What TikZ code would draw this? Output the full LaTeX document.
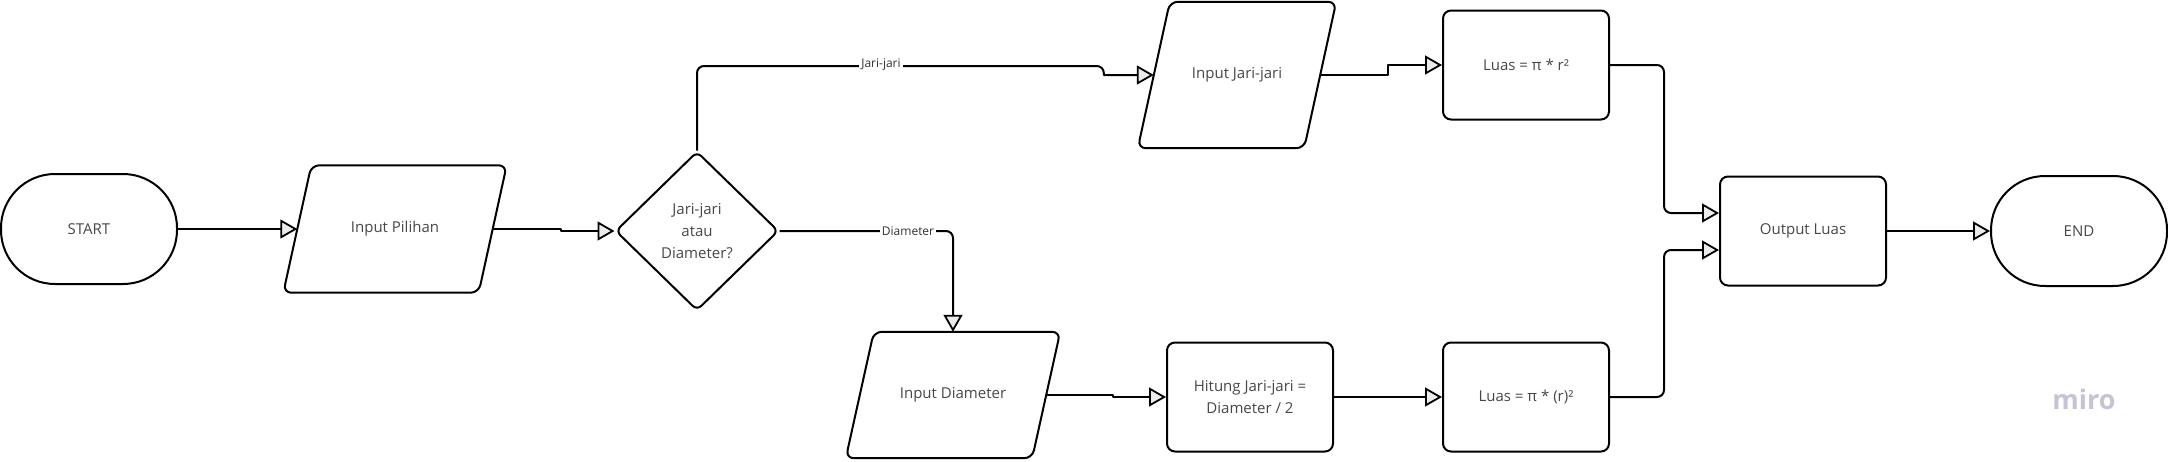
\documentclass[tikz,border=0pt]{standalone}
\usepackage{fontspec}
\setmainfont{Open Sans}
\usetikzlibrary{arrows.meta,shapes.geometric,calc}
\definecolor{txt}{HTML}{474747}
\definecolor{miro}{HTML}{C5C4D6}
\tikzset{
  base/.style={draw=black, line width=2pt, text=txt, font=\fontsize{15}{22}\selectfont, align=center, inner sep=0pt},
  term/.style={base, rounded corners=54pt, minimum width=176pt, minimum height=110pt},
  proc/.style={base, rounded corners=8pt, minimum width=166pt, minimum height=109pt},
  io/.style={text=txt, font=\fontsize{15}{22}\selectfont, align=center, inner sep=0pt},
  ioline/.style={draw=black, line width=2pt, rounded corners=8pt},
  dec/.style={base, diamond, rounded corners=6pt, minimum width=163pt, minimum height=159pt},
  conn/.style={line width=2pt, line join=round, rounded corners=7pt, -{Triangle[length=17pt,width=19pt,fill=black!8,line width=1.8pt]}},
  jog/.style={conn, sharp corners},
  elabel/.style={fill=white, text=black!80, font=\fontsize{12}{14}\selectfont, inner sep=2pt}
}
\begin{document}
\begin{tikzpicture}[x=1pt,y=-1pt]
\useasboundingbox (0,0) rectangle (2168,461);
\node[term] (start) at (89,229) {START};
\node[io, minimum width=195pt, minimum height=127pt] (pil) at (395,229) {Input Pilihan};
\node[dec] (dec) at (697,231) {Jari-jari\\atau\\Diameter?};
\node[io, minimum width=166pt, minimum height=146pt] (ij) at (1237,75) {Input Jari-jari};
\node[proc] (l1) at (1526,65) {Luas = π * r²};
\node[proc] (out) at (1803,231) {Output Luas};
\node[term] (end) at (2079,231) {END};
\node[io, minimum width=186pt, minimum height=126pt] (id) at (953,395) {Input Diameter};
\node[proc] (hit) at (1250,397) {Hitung Jari-jari =\\Diameter / 2};
\node[proc] (l2) at (1526,397) {Luas = π * (r)²};
\node[text=miro, font=\fontsize{27}{30}\selectfont\bfseries] (wm) at (2084,399) {miro};

% parallelogram outlines
\draw[ioline] ($(pil.south west)+(-14,0)$) -- ($(pil.north west)+(14,0)$) -- ($(pil.north east)+(14,0)$) -- ($(pil.south east)+(-14,0)$) -- cycle;
\draw[ioline] ($(ij.south west)+(-16,0)$) -- ($(ij.north west)+(16,0)$) -- ($(ij.north east)+(16,0)$) -- ($(ij.south east)+(-16,0)$) -- cycle;
\draw[ioline] ($(id.south west)+(-14,0)$) -- ($(id.north west)+(14,0)$) -- ($(id.north east)+(14,0)$) -- ($(id.south east)+(-14,0)$) -- cycle;

\draw[conn] (start.east) -- (pil.west);
\draw[jog] (pil.east) -- ++(68,0) |- (dec.west);
\coordinate (jj) at ($(ij.west)+(-50,-9)$);
\draw[conn] (dec.north) |- (jj) [sharp corners] |- (ij.west);
\node[elabel] at (881,65) {Jari-jari};
\draw[jog] (ij.east) -- ++(68,0) |- (l1.west);
\draw[conn] (l1.east) -- ++(54,0) |- ($(out.west)+(0,-18)$);
\draw[conn] (l2.east) -- ++(54,0) |- ($(out.west)+(0,19)$);
\draw[conn] (out.east) -- (end.west);
\draw[conn] (dec.east) -| (id.north);
\node[elabel] at (908,231) {Diameter};
\draw[jog] (id.east) -- ++(67,0) |- (hit.west);
\draw[conn] (hit.east) -- (l2.west);
\end{tikzpicture}
\end{document}
